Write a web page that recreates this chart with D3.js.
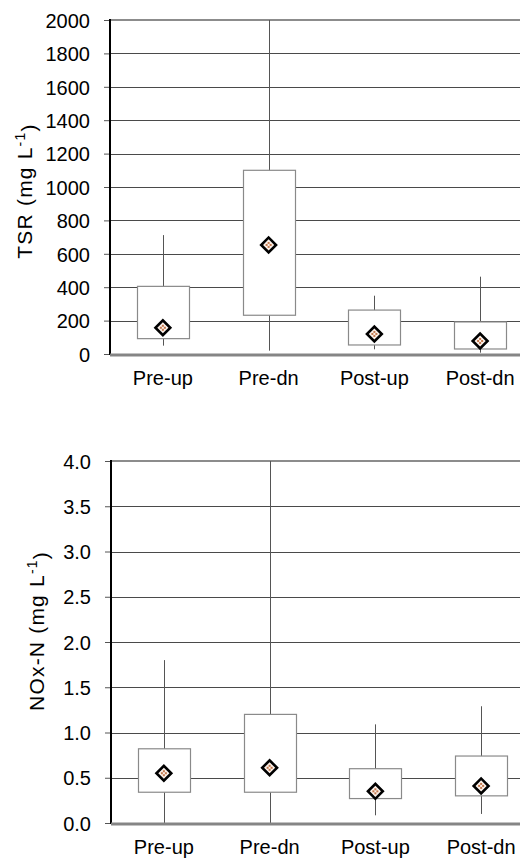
<!DOCTYPE html>
<html>
<head>
<meta charset="utf-8">
<script src="https://cdn.jsdelivr.net/npm/d3@7"></script>
<style>
  body { margin: 0; background: #fff; }
  text { font-family: Arial, "Liberation Sans", sans-serif; fill: #000; }
</style>
</head>
<body>
<div id="chart"></div>
<script>
// categories shared by both panels
var categories = ['Pre-up', 'Pre-dn', 'Post-up', 'Post-dn'];

// TSR (mg L-1) box stats
var tsrWhiskLow  = [50, 20, 28, 8];
var tsrBoxLow    = [92, 232, 54, 30];
var tsrMean      = [157, 653, 120, 78];
var tsrBoxHigh   = [405, 1100, 263, 192];
var tsrWhiskHigh = [712, 2000, 349, 463];
var tsrTicks = [0, 200, 400, 600, 800, 1000, 1200, 1400, 1600, 1800, 2000];

// NOx-N (mg L-1) box stats
var noxWhiskLow  = [0.0, 0.0, 0.085, 0.10];
var noxBoxLow    = [0.34, 0.34, 0.27, 0.30];
var noxMean      = [0.55, 0.61, 0.35, 0.41];
var noxBoxHigh   = [0.82, 1.2, 0.60, 0.74];
var noxWhiskHigh = [1.8, 4.0, 1.09, 1.29];
var noxTicks = [0, 0.5, 1.0, 1.5, 2.0, 2.5, 3.0, 3.5, 4.0];

var svgWidth = 520;
var svgHeight = 859;

var svg = d3.select('#chart')
  .append('svg')
  .attr('width', svgWidth)
  .attr('height', svgHeight);

function buildRows(lo, q1, mean, q3, hi) {
  return categories.map(function(c, i) {
    return { cat: c, lo: lo[i], q1: q1[i], mean: mean[i], q3: q3[i], hi: hi[i] };
  });
}

function drawPanel(opts) {
  var rows = buildRows(opts.lo, opts.q1, opts.mean, opts.q3, opts.hi);

  var xScale = d3.scaleBand()
    .domain(categories)
    .range([opts.left, opts.right]);

  var yScale = d3.scaleLinear()
    .domain([0, opts.max])
    .range([opts.bottom, opts.top]);

  var g = svg.append('g');

  // gridlines
  g.selectAll('.grid')
    .data(opts.ticks.slice(1, -1))
    .enter()
    .append('line')
    .attr('x1', opts.left)
    .attr('x2', opts.right)
    .attr('y1', d => Math.round(yScale(d)) + 0.5)
    .attr('y2', d => Math.round(yScale(d)) + 0.5)
    .attr('stroke', '#4a4a4a')
    .attr('stroke-width', 1);

  // top border
  g.append('line')
    .attr('x1', opts.left)
    .attr('x2', opts.right)
    .attr('y1', yScale(opts.max))
    .attr('y2', yScale(opts.max))
    .attr('stroke', '#8c8c8c')
    .attr('stroke-width', 2);

  var boxW = 52;

  // whiskers
  g.selectAll('.whisk')
    .data(rows)
    .enter()
    .append('line')
    .attr('x1', d => Math.round(xScale(d.cat) + xScale.bandwidth() / 2) + 0.5)
    .attr('x2', d => Math.round(xScale(d.cat) + xScale.bandwidth() / 2) + 0.5)
    .attr('y1', d => yScale(d.lo))
    .attr('y2', d => yScale(d.hi))
    .attr('stroke', '#555')
    .attr('stroke-width', 1);

  // boxes
  g.selectAll('.box')
    .data(rows)
    .enter()
    .append('rect')
    .attr('x', d => Math.round(xScale(d.cat) + xScale.bandwidth() / 2 - boxW / 2) + 0.5)
    .attr('y', d => yScale(d.q3))
    .attr('width', boxW)
    .attr('height', d => yScale(d.q1) - yScale(d.q3))
    .attr('fill', '#fff')
    .attr('stroke', '#8a8a8a')
    .attr('stroke-width', 1.2);

  // mean markers
  var diamond = d3.symbol().type(d3.symbolSquare).size(110);
  var marks = g.selectAll('.mean')
    .data(rows)
    .enter()
    .append('g')
    .attr('transform', d => `translate(${xScale(d.cat) + xScale.bandwidth() / 2}, ${yScale(d.mean)})`);

  marks.append('path')
    .attr('d', diamond)
    .attr('transform', 'rotate(45)')
    .attr('fill', '#fbf1ea')
    .attr('stroke', '#000')
    .attr('stroke-width', 2.6);

  [[-2, 0], [2, 0], [0, -2], [0, 2]].forEach(function(p) {
    marks.append('rect')
      .attr('x', p[0] - 1)
      .attr('y', p[1] - 1)
      .attr('width', 2)
      .attr('height', 2)
      .attr('fill', '#c47a4f');
  });

  // left axis
  var yAxis = d3.axisLeft(yScale)
    .tickValues(opts.ticks)
    .tickFormat(opts.fmt)
    .tickSize(6)
    .tickPadding(14);

  var ax = g.append('g')
    .attr('transform', `translate(${opts.left}, 0)`)
    .call(yAxis);
  ax.select('.domain').remove();
  ax.selectAll('.tick line').attr('stroke', '#555');
  ax.selectAll('.tick text')
    .style('font-size', '20px')
    .attr('dy', '0.36em');

  g.append('line')
    .attr('x1', opts.left)
    .attr('x2', opts.left)
    .attr('y1', opts.top - 1)
    .attr('y2', opts.bottom + 1)
    .attr('stroke', '#000')
    .attr('stroke-width', 2);

  // bottom axis
  g.append('line')
    .attr('x1', opts.left)
    .attr('x2', opts.right)
    .attr('y1', opts.bottom + 1)
    .attr('y2', opts.bottom + 1)
    .attr('stroke', '#858585')
    .attr('stroke-width', 3);

  g.selectAll('.xlab')
    .data(categories)
    .enter()
    .append('text')
    .attr('x', d => xScale(d) + xScale.bandwidth() / 2)
    .attr('y', opts.bottom + 31)
    .attr('text-anchor', 'middle')
    .style('font-size', '20px')
    .text(d => d);

  // y title with superscript
  var title = g.append('text')
    .attr('transform', `translate(${opts.titleX}, ${opts.titleY}) rotate(-90)`)
    .attr('text-anchor', 'middle')
    .style('font-size', '21px')
    .style('letter-spacing', '1.2px');
  title.append('tspan').text(opts.title + ' (mg L');
  title.append('tspan').attr('dy', '-0.5em').style('font-size', '14px').text('-1');
  title.append('tspan').attr('dy', '0.5em').text(')');
}

drawPanel({
  left: 110, right: 533, top: 20, bottom: 354,
  max: 2000, ticks: tsrTicks, fmt: d3.format('d'),
  lo: tsrWhiskLow, q1: tsrBoxLow, mean: tsrMean, q3: tsrBoxHigh, hi: tsrWhiskHigh,
  title: 'TSR', titleX: 32, titleY: 191
});

drawPanel({
  left: 111, right: 534, top: 461, bottom: 823,
  max: 4, ticks: noxTicks, fmt: d3.format('.1f'),
  lo: noxWhiskLow, q1: noxBoxLow, mean: noxMean, q3: noxBoxHigh, hi: noxWhiskHigh,
  title: 'NOx-N', titleX: 44, titleY: 631
});
</script>
</body>
</html>
